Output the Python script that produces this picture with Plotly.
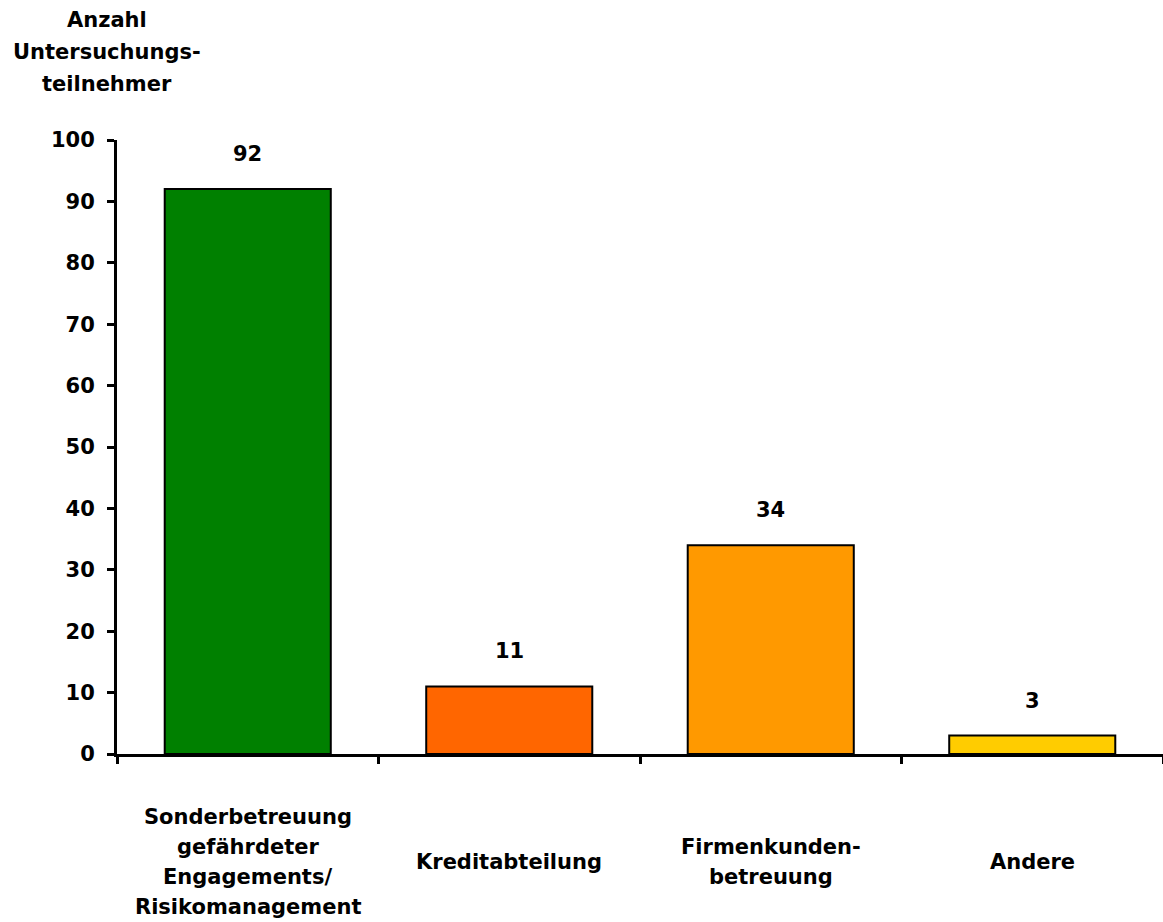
import plotly.graph_objects as go

categories = ["Sonderbetreuung<br>gefährdeter<br>Engagements/<br>Risikomanagement",
              "Kreditabteilung", "Firmenkunden-<br>betreuung", "Andere"]
values = [92, 11, 34, 3]
colors = ["#008000", "#FF6600", "#FF9900", "#FFCC00"]
y_ticks = list(range(0, 101, 10))
y_title = "Anzahl<br>Untersuchungs-<br>teilnehmer"

FONT = "DejaVu Sans"
fs = 21

fig = go.Figure()
fig.add_trace(go.Bar(
    x=categories, y=values, width=0.635,
    marker=dict(color=colors, line=dict(color="black", width=2)),
    hoverinfo="skip",
))

for cat, v in zip(categories, values):
    fig.add_annotation(x=cat, y=v, text=f"<b>{v}</b>", showarrow=False,
                       yanchor="middle", yshift=35,
                       font=dict(family=FONT, size=fs, color="black"))
    lines = cat.split("<br>")
    n = len(lines)
    for i, ln in enumerate(lines):
        fig.add_annotation(x=cat, y=0, text=f"<b>{ln}</b>", showarrow=False,
                           yanchor="middle", yshift=-108 + (n - 1) / 2 * 30 - i * 30,
                           font=dict(family=FONT, size=fs, color="black"))

for i, ln in enumerate(y_title.split("<br>")):
    fig.add_annotation(xref="paper", yref="paper", x=-0.010, y=1.0, text=f"<b>{ln}</b>",
                       showarrow=False, xanchor="center", yanchor="middle",
                       yshift=120 - 32 * i,
                       font=dict(family=FONT, size=fs, color="black"))

fig.update_layout(
    width=1163, height=922,
    margin=dict(l=117, r=0, t=140, b=168),
    plot_bgcolor="white", paper_bgcolor="white",
    showlegend=False,
    font=dict(family=FONT, size=fs, color="black"),
    xaxis=dict(type="category", tickson="boundaries", ticks="outside", ticklen=7, tickwidth=3,
               tickcolor="black", showticklabels=False, showline=True,
               linecolor="black", linewidth=3, showgrid=False, zeroline=False,
               range=[-0.5, 3.5], fixedrange=True),
    yaxis=dict(range=[0, 100], tickmode="array", tickvals=y_ticks,
               ticktext=[f"<b>{t}</b>" for t in y_ticks],
               ticks="outside", ticklen=7, tickwidth=3, tickcolor="black",
               ticklabelstandoff=8,
               showline=True, linecolor="black", linewidth=3, showgrid=False,
               zeroline=False, fixedrange=True),
)

fig.write_html("out.html")
